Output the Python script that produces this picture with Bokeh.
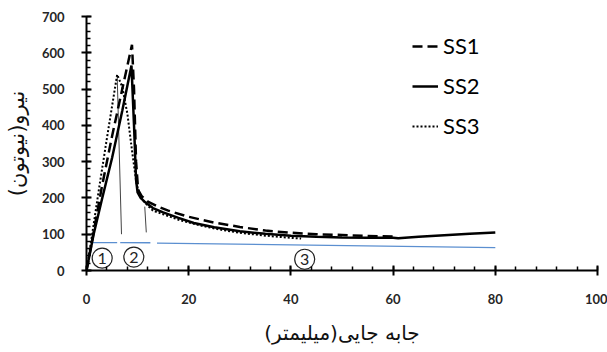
from bokeh.plotting import figure
from bokeh.models import Range1d, SingleIntervalTicker, Legend, LegendItem, ColumnDataSource
from bokeh.core.properties import value
from bokeh.embed import file_html
from bokeh.resources import INLINE

# ---- data ----
ss1_x = [0, 1, 3, 5, 7, 8.9, 9.3, 9.7, 10.1, 10.8, 12, 14, 16, 20, 25, 30, 35, 40, 45, 50, 55, 60]
ss1_y = [0, 75, 230, 370, 500, 622, 500, 300, 222, 205, 190, 176, 165, 148, 132, 120, 110, 104, 100, 98, 95, 94]

ss2_x = [0, 1.4, 3, 5, 7, 8.8, 9.3, 9.7, 10.0, 10.6, 11.5, 13, 15, 18, 21, 25, 30, 35, 40, 45, 50, 55, 60, 61, 65, 70, 75, 80]
ss2_y = [0, 100, 195, 310, 440, 565, 400, 250, 215, 200, 188, 172, 160, 145, 131, 119, 108, 101, 96, 93, 91, 90, 90, 89, 93, 97, 101, 105]

ss3_x = [0, 1, 2.5, 4, 6, 7, 8, 8.9, 9.8, 10.6, 11.9, 13, 15, 18, 22, 26, 30, 35, 40, 42]
ss3_y = [0, 90, 230, 365, 540, 506, 432, 331, 238, 201, 180, 165, 155, 140, 125, 113, 104, 96, 90, 88]

# region separators (thin lines)
sep1_x = [6.0, 6.85]
sep1_y = [538, 100]
sep2_x = [11.4, 11.7]
sep2_y = [176, 105]

# blue reference line, three pieces
blue1_x = [0.8, 6.0]
blue1_y = [77, 77]
blue2_x = [6.6, 12.5]
blue2_y = [77, 76.5]
blue3_x = [13.8, 80]
blue3_y = [75.5, 63]

# region markers
region_x = [3.07, 9.26, 42.7]
region_y = [34, 37, 31]
region_lbl = ["1", "2", "3"]

x_label = "جابه جایی(میلیمتر)"
y_label = "نیرو(نیوتون)"

# ---- figure ----
p = figure(width=607, height=352, output_backend="svg", toolbar_location=None,
           x_range=Range1d(0, 100), y_range=Range1d(0, 700),
           min_border_left=86, min_border_right=10, min_border_top=16, min_border_bottom=82)
p.outline_line_color = None
p.xgrid.visible = False
p.ygrid.visible = False

p.xaxis.ticker = SingleIntervalTicker(interval=20, num_minor_ticks=5)
p.yaxis.ticker = SingleIntervalTicker(interval=100, num_minor_ticks=5)

for ax in (p.xaxis, p.yaxis):
    ax.axis_line_color = "black"
    ax.axis_line_width = 2
    ax.major_tick_line_color = "black"
    ax.major_tick_line_width = 2
    ax.minor_tick_line_color = "black"
    ax.minor_tick_line_width = 1.5
    ax.major_tick_in = 5
    ax.major_tick_out = 5
    ax.minor_tick_in = 4
    ax.minor_tick_out = 0
    ax.major_label_text_font = "Lato"
    ax.major_label_text_font_style = "bold"
    ax.major_label_text_font_size = "13px"
    ax.major_label_text_color = "#262626"
    ax.axis_label_text_font = "DejaVu Sans"
    ax.axis_label_text_font_style = "normal"
    ax.axis_label_text_color = "#111111"

p.xaxis.axis_label_text_font_size = "20px"
p.yaxis.axis_label_text_font_size = "21px"
p.xaxis.major_label_standoff = 18
p.yaxis.major_label_standoff = 17
p.xaxis.axis_label = x_label
p.yaxis.axis_label = y_label
p.xaxis.axis_label_standoff = 14
p.yaxis.axis_label_standoff = 10

# blue line
for bx, by in ((blue1_x, blue1_y), (blue2_x, blue2_y), (blue3_x, blue3_y)):
    p.line(bx, by, line_color="#5b8fd0", line_width=1.3)

# separators
p.line(sep1_x, sep1_y, line_color="#444444", line_width=1)
p.line(sep2_x, sep2_y, line_color="#444444", line_width=1)

r1 = p.line(ss1_x, ss1_y, line_color="black", line_width=2.5, line_dash="10 5")
r2 = p.line(ss2_x, ss2_y, line_color="black", line_width=2.5)
r3 = p.line(ss3_x, ss3_y, line_color="black", line_width=2, line_dash="2 2")

src = ColumnDataSource(dict(x=region_x, y=region_y, t=region_lbl))
p.scatter("x", "y", source=src, marker="circle", size=20, fill_color="white",
          line_color="#222222", line_width=1.2)
p.text("x", "y", text="t", source=src, text_align="center", text_baseline="middle",
       text_font=value("Lato"), text_font_size="16px", text_color="#222222")

legend = Legend(items=[LegendItem(label="SS1", renderers=[r1]),
                       LegendItem(label="SS2", renderers=[r2]),
                       LegendItem(label="SS3", renderers=[r3])],
                location=(326, 131), padding=0, margin=0, spacing=13,
                glyph_width=26, glyph_height=20, label_height=20, label_standoff=5,
                border_line_alpha=0, background_fill_alpha=0,
                label_text_font="Lato", label_text_font_size="22px", label_text_color="black")
p.add_layout(legend, "center")

open("out.html", "w").write(file_html(p, INLINE))
